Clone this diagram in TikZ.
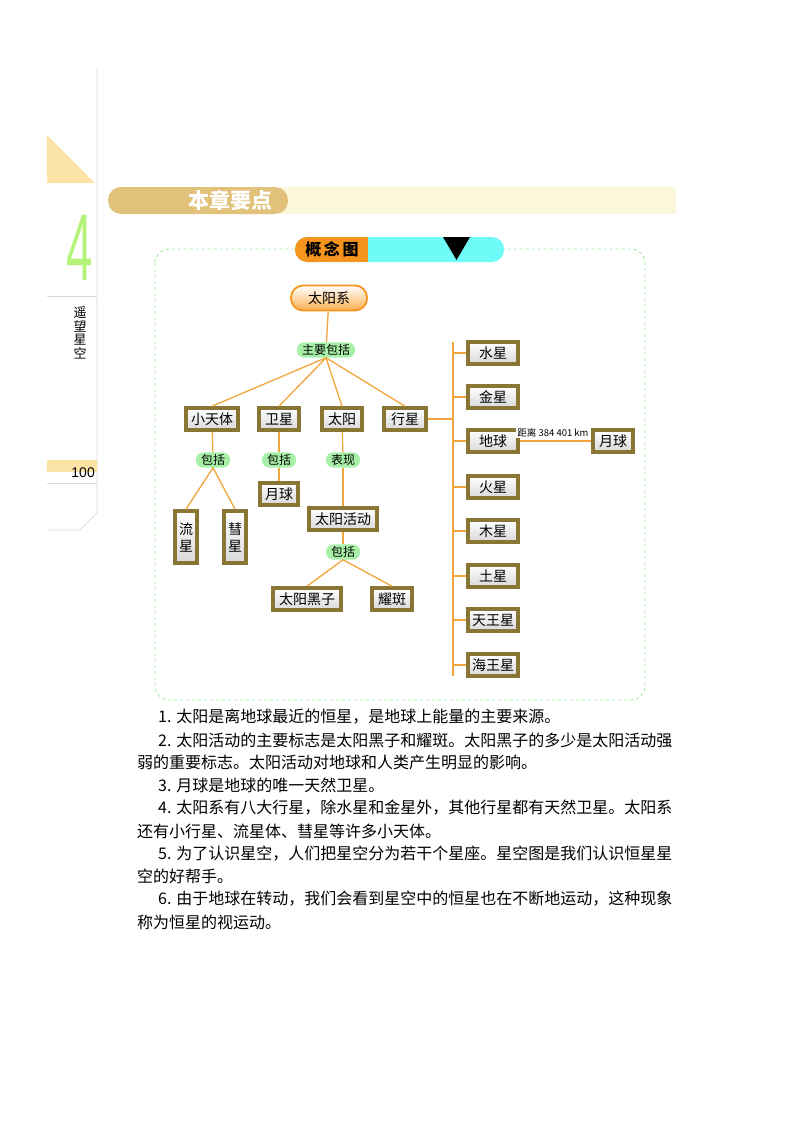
\documentclass[tikz,border=0pt]{standalone}
\usepackage{fontspec}
\setmainfont{Liberation Sans}
\newfontfamily\cjk{Noto Sans CJK SC}
\usetikzlibrary{shapes.geometric}
\definecolor{lnk}{HTML}{F2A53C}
\definecolor{frm}{HTML}{8A7634}
\definecolor{lbl}{HTML}{A8F0A8}
\tikzset{
  bx/.style={draw=frm,line width=3.6pt,top color=white,bottom color=gray!30,font=\cjk\fontsize{14}{16}\selectfont,inner sep=0pt,minimum height=22pt,text=black},
  vbx/.style={bx,minimum width=22pt,minimum height=52pt,align=center,font=\cjk\fontsize{14}{17}\selectfont},
  lab/.style={fill=lbl,rounded corners=7pt,inner xsep=5pt,inner ysep=2pt,font=\cjk\fontsize{12}{13}\selectfont},
  ln/.style={draw=lnk,line width=1.3pt},
  para/.style={anchor=west,font=\cjk\fontsize{16}{17}\selectfont,inner sep=0pt}
}
\begin{document}
\begin{tikzpicture}[x=1pt,y=-1pt]
\useasboundingbox (0,0) rectangle (800,1132);
\fill[fill=white] (0,0) rectangle (800,1132);
\fill[color={rgb,255:red,252;green,228;blue,166}] (47,135) -- (47,183) -- (95,183) -- cycle;
\draw[gray!20,line width=1pt] (97,68) -- (97,513) -- (80,530) -- (47,530);
\draw[gray!30,line width=0.8pt] (47,296) -- (97,296);
\node[font=\fontsize{95}{95}\selectfont,text={rgb,255:red,181;green,242;blue,122},inner sep=0pt,xscale=0.5] (four) at (80,248) {4};
\node[font=\cjk\fontsize{13}{13.5}\selectfont,align=center,inner sep=0pt] (vt) at (80,333) {遥\\望\\星\\空};
\fill[color={rgb,255:red,252;green,228;blue,166}] (47,460) rectangle (97,472);
\draw[gray!30,line width=0.8pt] (47,483) -- (97,483);
\node[anchor=south east,font=\fontsize{14}{14}\selectfont,inner sep=0pt] (pg) at (95,478) {100};
\fill[color={rgb,255:red,250;green,247;blue,218}] (280,187) rectangle (676,214);
\fill[color={rgb,255:red,226;green,194;blue,122},rounded corners=13pt] (108,187) rectangle (288,214);
\node[font=\cjk\bfseries\fontsize{21}{21}\selectfont,text=white] (hd) at (230,200) {本章要点};
\draw[color={rgb,255:red,158;green,234;blue,158},dashed,line width=0.9pt,rounded corners=14pt] (155,249) rectangle (645,700);
\fill[color={rgb,255:red,111;green,251;blue,247},rounded corners=12pt] (295,237) rectangle (504,262);
\fill[color={rgb,255:red,247;green,148;blue,29},rounded corners=12pt] (295,237) rectangle (330,262);
\fill[color={rgb,255:red,247;green,148;blue,29}] (320,237) rectangle (368,262);
\fill[black] (443,237) -- (470,237) -- (456.5,260) -- cycle;
\node[font=\cjk\bfseries\fontsize{16}{16}\selectfont] (gt) at (332,249.5) {概\,念\,图};
\node[draw={rgb,255:red,247;green,148;blue,29},line width=1.8pt,rounded corners=12pt,top color=white,bottom color={rgb,255:red,250;green,175;blue,80},minimum width=76pt,minimum height=25pt,font=\cjk\fontsize{14}{16}\selectfont] (sys) at (329,298) {太阳系};
\node[lab] (zy) at (326,350) {主要包括};
\node[bx,minimum width=52pt] (xtt) at (212,419) {小天体};
\node[bx,minimum width=40pt] (wx) at (279,419) {卫星};
\node[bx,minimum width=40pt] (ty) at (342,419) {太阳};
\node[bx,minimum width=42pt] (xx) at (405,419) {行星};
\node[lab] (b1) at (213,460) {包括};
\node[lab] (b2) at (279,460) {包括};
\node[lab] (bx3) at (343,460) {表现};
\node[vbx] (lx) at (186,537) {流\\星};
\node[vbx] (hx) at (235,537) {彗\\星};
\node[bx,minimum width=38pt] (yq) at (279,494) {月球};
\node[bx,minimum width=68pt] (tyhd) at (343,519) {太阳活动};
\node[lab] (b4) at (343,552) {包括};
\node[bx,minimum width=68pt] (hz) at (307,599) {太阳黑子};
\node[bx,minimum width=40pt] (yb) at (392,599) {耀斑};
\draw[ln] (sys) -- (zy);
\foreach \t in {xtt,wx,ty,xx} \draw[ln] (zy.south) -- (\t.north);
\draw[ln] (xtt) -- (b1); \draw[ln] (b1.south) -- (lx.north); \draw[ln] (b1.south) -- (hx.north);
\draw[ln] (wx) -- (b2); \draw[ln] (b2) -- (yq);
\draw[ln] (ty) -- (bx3); \draw[ln] (bx3) -- (tyhd);
\draw[ln] (tyhd) -- (b4); \draw[ln] (b4.south) -- (hz.north); \draw[ln] (b4.south) -- (yb.north);
\coordinate (tr) at (453,342);
\coordinate (br) at (453,676);
\draw[ln] (tr) -- (br);
\coordinate (jx) at (453,419);
\draw[ln] (xx) -- (jx);
\foreach \n/\t/\y in {p1/水星/353,p2/金星/397,p3/地球/441,p4/火星/487,p5/木星/531,p6/土星/576,p7/天王星/620,p8/海王星/665}{
  \node[bx,minimum width=50pt] (\n) at (493,\y) {\t};
  \coordinate (c\n) at (453,\y);
  \draw[ln] (c\n) -- (\n);
}
\node[bx,minimum width=40pt] (moon) at (613,441) {月球};
\draw[ln] (p3) -- (moon);
\node[font=\cjk\fontsize{9.5}{10}\selectfont,fill=white,inner sep=1pt,anchor=south] (dl) at (553,438) {距离 384 401 km};
\node[para] (t1) at (158,717) {1. 太阳是离地球最近的恒星，是地球上能量的主要来源。};
\node[para] (t2) at (158,740) {2. 太阳活动的主要标志是太阳黑子和耀斑。太阳黑子的多少是太阳活动强};
\node[para] (t3) at (137,762) {弱的重要标志。太阳活动对地球和人类产生明显的影响。};
\node[para] (t4) at (158,785) {3. 月球是地球的唯一天然卫星。};
\node[para] (t5) at (158,808) {4. 太阳系有八大行星，除水星和金星外，其他行星都有天然卫星。太阳系};
\node[para] (t6) at (137,831) {还有小行星、流星体、彗星等许多小天体。};
\node[para] (t7) at (158,854) {5. 为了认识星空，人们把星空分为若干个星座。星空图是我们认识恒星星};
\node[para] (t8) at (137,876) {空的好帮手。};
\node[para] (t9) at (158,899) {6. 由于地球在转动，我们会看到星空中的恒星也在不断地运动，这种现象};
\node[para] (t10) at (137,922) {称为恒星的视运动。};
\end{tikzpicture}
\end{document}
